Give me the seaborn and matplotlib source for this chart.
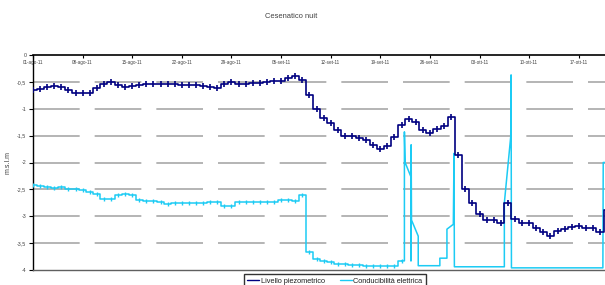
import numpy as np
import pandas as pd
import matplotlib
matplotlib.use("Agg")
import matplotlib.pyplot as plt
import seaborn as sns
from matplotlib.lines import Line2D

# ---------------- data ----------------
title = "Cesenatico nuit"
y_label = "m.s.l.m"
series_names = ["Livello piezometrico", "Conducibilità elettrica"]
start_date = "2011-08-01"

# Livello piezometrico: one value per night, from 01-ago-11 onward
level_daily = [
    -0.65, -0.64, -0.60, -0.58, -0.60, -0.65, -0.71, -0.71, -0.70, -0.62,
    -0.54, -0.50, -0.56, -0.59, -0.58, -0.56, -0.54, -0.54, -0.54, -0.54,
    -0.54, -0.55, -0.56, -0.56, -0.57, -0.59, -0.61, -0.54, -0.50, -0.54,
    -0.54, -0.52, -0.52, -0.50, -0.49, -0.48, -0.43, -0.40, -0.47, -0.74,
    -1.01, -1.18, -1.27, -1.40, -1.51, -1.50, -1.55, -1.58, -1.67, -1.75,
    -1.69, -1.52, -1.30, -1.20, -1.24, -1.40, -1.46, -1.38, -1.32, -1.15,
    -1.86, -2.49, -2.76, -2.95, -3.07, -3.07, -3.13, -2.75, -3.05, -3.12,
    -3.13, -3.22, -3.29, -3.37, -3.27, -3.24, -3.20, -3.18, -3.22, -3.22,
    -3.29, -2.88,
]

# Conducibilità elettrica: one value per night up to 22-set-11
cond_daily = [
    -2.41, -2.43, -2.46, -2.47, -2.46, -2.50, -2.50, -2.51, -2.54, -2.59,
    -2.68, -2.68, -2.60, -2.58, -2.61, -2.70, -2.72, -2.72, -2.74, -2.77,
    -2.76, -2.76, -2.76, -2.76, -2.76, -2.74, -2.74, -2.81, -2.81, -2.74,
    -2.74, -2.74, -2.74, -2.74, -2.73, -2.70, -2.70, -2.72, -2.61, -3.67,
    -3.80, -3.83, -3.86, -3.88, -3.88, -3.90, -3.91, -3.92, -3.92, -3.92,
    -3.92, -3.92, -3.83,
]
# Conducibilità elettrica afterwards (irregular readings, days since 01-ago-11)
cond_tail_days = [52.0, 52.4, 52.4, 52.5, 53.3, 53.3, 53.35, 53.35, 53.4, 54.35,
                  54.35, 57.4, 57.4, 58.4, 58.4, 59.3, 59.4, 59.45, 66.5, 66.5,
                  67.4, 67.45, 67.5, 80.4, 80.45, 81.0]
cond_tail_vals = [-3.83, -3.83, -1.43, -2.00, -2.26, -3.83, -3.83, -1.67, -3.07, -3.37,
                  -3.92, -3.92, -3.78, -3.78, -3.24, -3.15, -1.83, -3.94, -3.94, -2.75,
                  -1.52, -0.37, -3.96, -3.96, -2.00, -2.00]

xtick_labels = ["01-ago-11", "08-ago-11", "15-ago-11", "22-ago-11", "29-ago-11",
                "05-set-11", "12-set-11", "19-set-11", "26-set-11", "03-ott-11",
                "10-ott-11", "17-ott-11"]
ytick_values = [0, -0.5, -1, -1.5, -2, -2.5, -3, -3.5, -4]
ytick_labels = ["0", "-0,5", "-1", "-1,5", "-2", "-2,5", "-3", "-3,5", "-4"]

# ---------------- style ----------------
NAVY = "#000080"
CYAN = "#1ccbf4"
GRID = "#a8a8a8"
TXT = "#404040"

sns.set_style("white")
plt.rcParams["font.family"] = ["Liberation Sans", "DejaVu Sans"]

fig = plt.figure(figsize=(6.05, 2.85), dpi=100)
ax = fig.add_axes([33 / 605, 15 / 285, 1 - 33 / 605, 215 / 285])

t0 = pd.Timestamp(start_date)
level_dates = t0 + pd.to_timedelta(np.arange(len(level_daily)), unit="D")
cond_dates = t0 + pd.to_timedelta(np.arange(len(cond_daily)), unit="D")
tail_dates = t0 + pd.to_timedelta(np.array(cond_tail_days), unit="D")

sns.lineplot(x=cond_dates, y=cond_daily, ax=ax, color=CYAN, linewidth=1.1,
             drawstyle="steps-mid", estimator=None, sort=False,
             marker="|", markersize=3, markeredgewidth=1.0,
             markeredgecolor=CYAN, legend=False, zorder=3)
sns.lineplot(x=tail_dates, y=cond_tail_vals, ax=ax, color=CYAN, linewidth=1.1,
             estimator=None, sort=False, legend=False, zorder=3)
sns.lineplot(x=level_dates, y=level_daily, ax=ax, color=NAVY, linewidth=1.2,
             drawstyle="steps-mid", estimator=None, sort=False,
             marker="|", markersize=5, markeredgewidth=1.2,
             markeredgecolor=NAVY, legend=False, zorder=4)

ax.set_xlim(t0, t0 + pd.Timedelta(days=80.7))
ax.set_ylim(-4, 0)

xt = t0 + pd.to_timedelta(np.arange(len(xtick_labels)) * 7, unit="D")
ax.set_xticks(xt)
ax.set_xticklabels(xtick_labels)
ax.set_yticks(ytick_values)
ax.set_yticklabels(ytick_labels)
ax.set_xlabel("")
ax.set_ylabel("")

ax.xaxis.set_ticks_position("top")
ax.xaxis.set_label_position("top")
ax.tick_params(axis="x", which="both", top=True, bottom=False, labeltop=True,
               labelbottom=False, direction="in", length=2.5, width=0.8,
               color="black", pad=-7.5, labelsize=3.3, labelcolor=TXT)
ax.tick_params(axis="y", left=True, direction="out", length=2.8, width=0.8,
               color="black", pad=2.0, labelsize=3.8, labelcolor=TXT)

ax.grid(False)
for v in ytick_values[1:-1]:
    ax.axhline(v, color=GRID, linewidth=1.2, linestyle=(0, (28, 9)), zorder=1)

for side in ["right"]:
    ax.spines[side].set_visible(False)
ax.spines["left"].set_color("black")
ax.spines["left"].set_linewidth(1.0)
ax.spines["top"].set_color("black")
ax.spines["top"].set_linewidth(1.2)
ax.spines["bottom"].set_color("#606060")
ax.spines["bottom"].set_linewidth(1.0)

fig.text(291 / 605, 1 - 16 / 285, title, ha="center", va="center",
         fontsize=5.4, color=TXT)
fig.text(8 / 605, 1 - 162 / 285, y_label, rotation=90, ha="center",
         va="center", fontsize=5.0, color=TXT)

handles = [Line2D([], [], color=NAVY, linewidth=1.0),
           Line2D([], [], color=CYAN, linewidth=1.0)]
leg = fig.legend(handles, series_names, loc="upper center",
                 bbox_to_anchor=(335 / 605, 1 - 274 / 285), ncol=2,
                 fontsize=5.3, frameon=True, fancybox=False, borderaxespad=0,
                 handlelength=1.6, handletextpad=0.25, columnspacing=2.0,
                 borderpad=0.5)
leg.get_frame().set_edgecolor("black")
leg.get_frame().set_linewidth(1.0)
for t in leg.get_texts():
    t.set_color("#202020")

fig.savefig("out.png", dpi=100)
